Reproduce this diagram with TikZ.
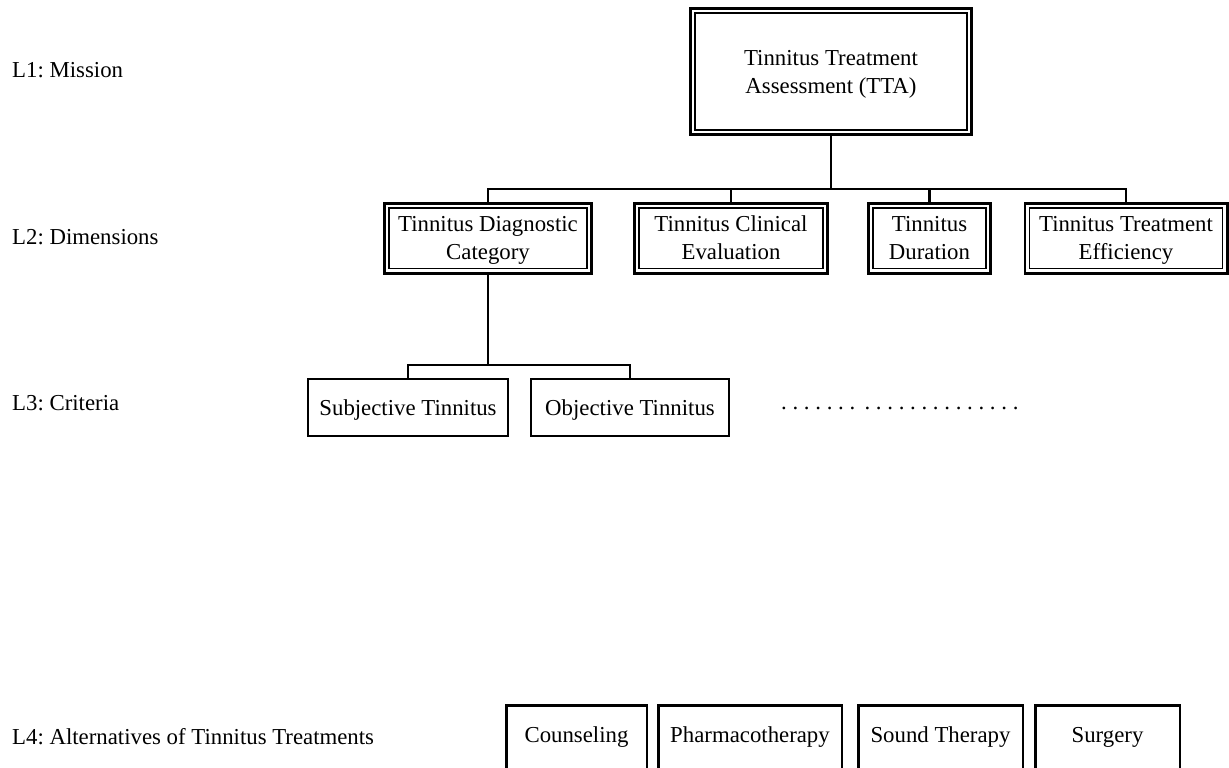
\documentclass[tikz,border=0pt]{standalone}
\usepackage{fontspec}
\setmainfont{Liberation Serif}
\usetikzlibrary{fit}
\newcommand\mystrut{\rule[-6.4pt]{0pt}{28pt}}
\begin{document}
\begin{tikzpicture}[x=1pt,y=-1pt,
  every node/.style={font=\fontsize{22.8}{28}\selectfont\frenchspacing},
  inbox/.style={draw, line width=1.8pt, outer sep=0pt, align=center, inner sep=0pt},
  outbox/.style={draw, line width=2.6pt, inner sep=4.7pt, outer sep=0pt},
  sbox/.style={draw, line width=2.2pt, align=center, inner sep=0pt, outer sep=0pt},
  altbox/.style={draw, line width=2.5pt, anchor=north, inner xsep=0pt, inner ysep=20.75pt,
    text height=16pt, text depth=60pt, outer sep=0pt},
  lbl/.style={anchor=base west, inner sep=0pt},
  conn/.style={line width=2.3pt, line join=miter}
]
\clip (0,0) rectangle (1229,768);
\fill[white] (0,0) rectangle (1229,768);

% level labels
\node[lbl] (l1) at (12,77.5) {L1: Mission};
\node[lbl] (l2) at (12,244.5) {L2: Dimensions};
\node[lbl] (l3) at (12,410.5) {L3: Criteria};
\node[lbl] (l4) at (12,744.5) {L4: Alternatives of Tinnitus Treatments};

% L1
\node[inbox, minimum width=272pt, minimum height=117pt] (tta-i) at (831,71.5) {\mystrut Tinnitus Treatment\\Assessment (TTA)\mystrut};
\node[outbox, fit=(tta-i)] (tta) {};

% L2
\node[inbox, minimum width=198pt, minimum height=60.5pt] (dc-i) at (488,238.25) {\mystrut Tinnitus Diagnostic\\Category\mystrut};
\node[outbox, fit=(dc-i)] (dc) {};
\node[inbox, minimum width=184pt, minimum height=60.5pt] (ce-i) at (731,238.25) {\mystrut Tinnitus Clinical\\Evaluation\mystrut};
\node[outbox, fit=(ce-i)] (ce) {};
\node[inbox, minimum width=113pt, minimum height=60.5pt] (du-i) at (929.5,238.25) {\mystrut Tinnitus\\Duration\mystrut};
\node[outbox, fit=(du-i)] (du) {};
\node[inbox, minimum width=193pt, minimum height=60.5pt] (te-i) at (1126,238.25) {\mystrut Tinnitus Treatment\\Efficiency\mystrut};
\node[outbox, fit=(te-i)] (te) {};

% L3
\node[sbox, minimum width=199.8pt, minimum height=56.8pt] (sub) at (408,407.5) {\mystrut Subjective Tinnitus};
\node[sbox, minimum width=197.8pt, minimum height=56.8pt] (obj) at (630,407.5) {\mystrut Objective Tinnitus};
\node[anchor=base west, inner sep=0pt] (dots) at (781,409.5)
  {. . . . . . .\hspace{3.6pt} . . . . . . . . . . . . . .};

% L4
\node[altbox, minimum width=140.5pt] (cou) at (576.5,705.25) {Counseling};
\node[altbox, minimum width=183.5pt] (pha) at (750,705.25) {Pharmacotherapy};
\node[altbox, minimum width=164.5pt] (snd) at (940.5,705.25) {Sound Therapy};
\node[altbox, minimum width=144.5pt] (sur) at (1107.5,705.25) {Surgery};

% connectors
\coordinate (bus1) at (0,189);
\coordinate (bus2) at (0,365);
\draw[conn] (tta) -- (tta |- bus1) -| (dc);
\draw[conn] (tta |- bus1) -| (te);
\draw[conn] (ce |- bus1) -- (ce);
\draw[conn] (du |- bus1) -- (du);
\draw[conn] (dc) -- (dc |- bus2) -| (sub);
\draw[conn] (dc |- bus2) -| (obj);
\end{tikzpicture}
\end{document}
